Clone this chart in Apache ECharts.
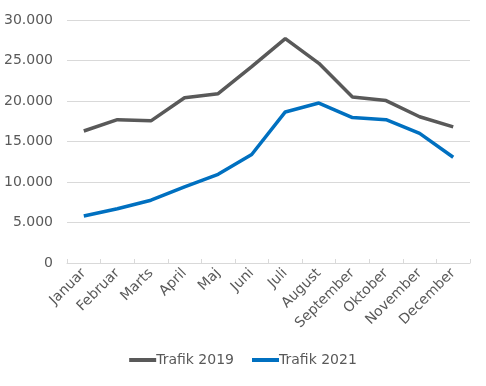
<!DOCTYPE html>
<html><head><meta charset="utf-8">
<script src="https://cdn.jsdelivr.net/npm/echarts@6/dist/echarts.min.js"></script>
<style>html,body{margin:0;padding:0;background:#fff}#c{width:486px;height:386px}</style>
</head><body><div id="c"></div>
<script>
const categories = ['Januar','Februar','Marts','April','Maj','Juni','Juli','August','September','Oktober','November','December'];
const trafik2019 = [16300,17700,17550,20400,20900,24250,27700,24650,20500,20050,18050,16800];
const trafik2021 = [5800,6700,7750,9400,10950,13400,18650,19750,17950,17700,16000,13050];
const yTicks = {min:0,max:30000,interval:5000};
const font = '"DejaVu Sans",sans-serif';
const chart = echarts.init(document.getElementById('c'));
chart.setOption({
  animation:false,
  grid:{left:67,right:16,top:20,bottom:123},
  legend:{bottom:14,left:'center',itemWidth:27,itemHeight:4,itemGap:18,
    icon:'rect',
    textStyle:{color:'#595959',fontSize:14,fontFamily:font,padding:[0,0,0,-5]},
    data:['Trafik 2019','Trafik 2021']},
  xAxis:{type:'category',data:categories,boundaryGap:true,
    axisLine:{lineStyle:{color:'#d9d9d9'}},
    axisTick:{show:true,inside:true,length:4,lineStyle:{color:'#d9d9d9'}},
    axisLabel:{rotate:45,color:'#595959',fontSize:14,fontFamily:font,interval:0,margin:8}},
  yAxis:{type:'value',min:yTicks.min,max:yTicks.max,interval:yTicks.interval,
    axisLine:{show:false},axisTick:{show:false},
    splitLine:{lineStyle:{color:'#d9d9d9'}},
    axisLabel:{color:'#595959',fontSize:14,fontFamily:font,margin:14,
      formatter:v=>v.toString().replace(/\B(?=(\d{3})+(?!\d))/g,'.')}},
  series:[
    {name:'Trafik 2019',type:'line',data:trafik2019,symbol:'none',
      lineStyle:{color:'#595959',width:3.5},itemStyle:{color:'#595959'}},
    {name:'Trafik 2021',type:'line',data:trafik2021,symbol:'none',
      lineStyle:{color:'#0070C0',width:3.5},itemStyle:{color:'#0070C0'}}
  ]
});
</script></body></html>
